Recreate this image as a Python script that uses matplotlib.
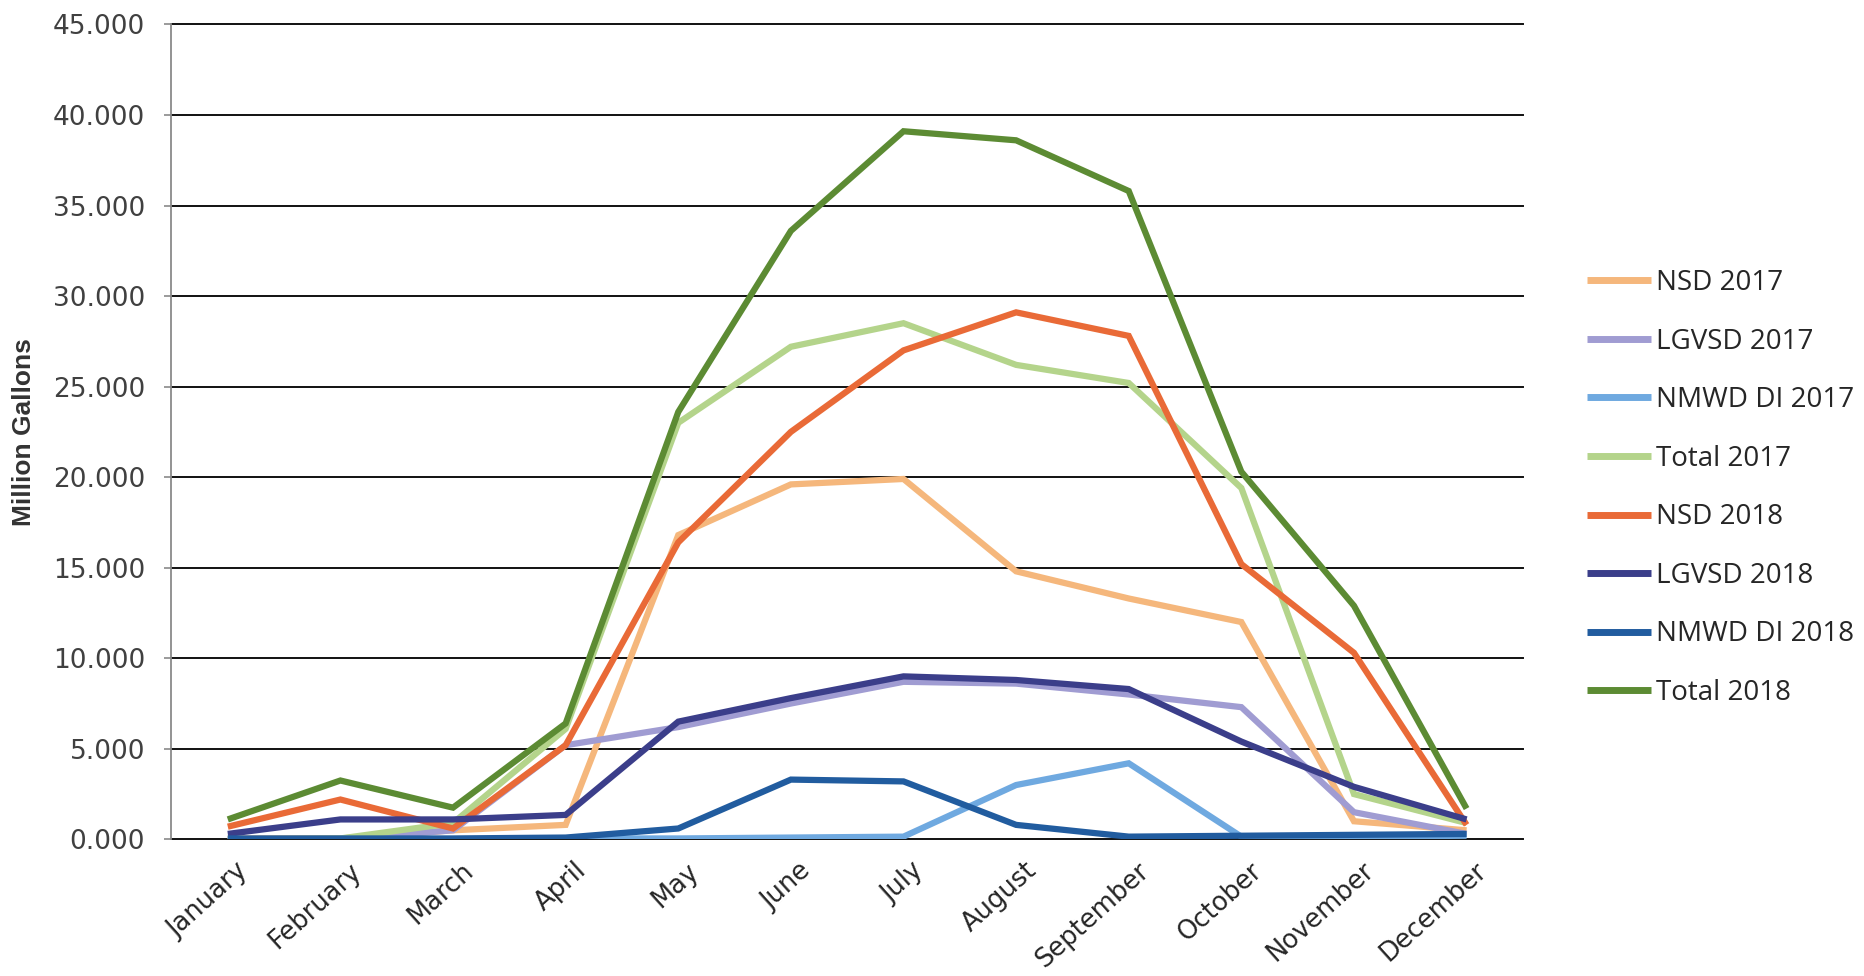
import matplotlib
matplotlib.use('Agg')
import matplotlib.pyplot as plt
import matplotlib.transforms as mtransforms
from matplotlib import font_manager
from matplotlib.ticker import FormatStrFormatter

# Months on the x axis
months = ['January', 'February', 'March', 'April', 'May', 'June', 'July',
          'August', 'September', 'October', 'November', 'December']

# Million gallons per month
nsd_2017 = [0.05, 0.05, 0.5, 0.8, 16.8, 19.6, 19.9, 14.8, 13.3, 12.0, 1.0, 0.5]
lgvsd_2017 = [0.0, 0.0, 0.5, 5.2, 6.2, 7.5, 8.7, 8.6, 8.0, 7.3, 1.5, 0.3]
nmwd_2017 = [0.0, 0.0, 0.0, 0.05, 0.05, 0.1, 0.15, 3.0, 4.2, 0.15, 0.15, 0.2]
total_2017 = [0.0, 0.05, 0.9, 6.1, 23.0, 27.2, 28.5, 26.2, 25.2, 19.4, 2.5, 0.9]
nsd_2018 = [0.7, 2.2, 0.6, 5.2, 16.4, 22.5, 27.0, 29.1, 27.8, 15.2, 10.3, 0.8]
lgvsd_2018 = [0.3, 1.1, 1.1, 1.35, 6.5, 7.8, 9.0, 8.8, 8.3, 5.4, 2.9, 1.1]
nmwd_2018 = [0.05, 0.05, 0.05, 0.1, 0.6, 3.3, 3.2, 0.8, 0.15, 0.2, 0.25, 0.3]
total_2018 = [1.1, 3.25, 1.75, 6.4, 23.6, 33.6, 39.1, 38.6, 35.8, 20.3, 12.9, 1.7]

series_names = ['NSD 2017', 'LGVSD 2017', 'NMWD DI 2017', 'Total 2017',
                'NSD 2018', 'LGVSD 2018', 'NMWD DI 2018', 'Total 2018']
series_values = [nsd_2017, lgvsd_2017, nmwd_2017, total_2017,
                 nsd_2018, lgvsd_2018, nmwd_2018, total_2018]
series_colors = ['#F5B77C', '#A09CD2', '#6FA9E0', '#B4D48B',
                 '#E96A37', '#3B3E8A', '#215C9F', '#5C8B33']

y_ticks = [0, 5, 10, 15, 20, 25, 30, 35, 40, 45]

# narrow bold font for the axis title if it is there
try:
    font_manager.findfont('Liberation Sans Narrow', fallback_to_default=False)
    ylab_family, ylab_size = 'Liberation Sans Narrow', 22
except ValueError:
    ylab_family, ylab_size = 'Liberation Sans', 19

fig = plt.figure(figsize=(18.64, 9.76), dpi=100)
ax = fig.add_axes([0.092, 0.140, 0.725, 0.835])

x = list(range(len(months)))
for name, vals, col in zip(series_names, series_values, series_colors):
    ax.plot(x, vals, color=col, linewidth=4.5, label=name,
            solid_joinstyle='miter', solid_capstyle='butt', zorder=3)

ax.set_xlim(-0.5, 11.5)
ax.set_ylim(0, 45)
ax.set_yticks(y_ticks)
ax.yaxis.set_major_formatter(FormatStrFormatter('%.3f'))
ax.set_xticks(x)
ax.set_xticklabels([])

# slanted month names, nudged right of the tick like the original
shift = mtransforms.ScaledTranslation(0.17, -0.28, fig.dpi_scale_trans)
for i, m in zip(x, months):
    ax.text(i, 0, m, transform=ax.get_xaxis_transform() + shift,
            rotation=42, ha='right', va='center', rotation_mode='anchor',
            fontsize=18.5, color='#262626', family='DejaVu Sans')

# black horizontal gridlines like the Excel original
ax.grid(axis='y', color='#111111', linewidth=1.4, zorder=1)
for gl in ax.get_ygridlines():
    gl.set_clip_on(False)
ax.set_axisbelow(True)
for side in ['top', 'right', 'bottom']:
    ax.spines[side].set_visible(False)
ax.spines['left'].set_color('#8a8a8a')
ax.spines['left'].set_linewidth(1.3)

ax.tick_params(axis='y', length=5, width=1.2, color='#8a8a8a', pad=14,
               labelsize=19, labelcolor='#404040')
ax.tick_params(axis='x', length=0)

ax.set_ylabel('Million Gallons', fontsize=ylab_size, fontweight='bold',
              color='#333333', family=ylab_family, labelpad=12)

leg = fig.legend(loc='center left', bbox_to_anchor=(0.838, 0.5), frameon=False,
                 prop={'family': 'Open Sans', 'size': 20}, labelspacing=1.1,
                 handlelength=2.3, handletextpad=0.2)
for line in leg.get_lines():
    line.set_linewidth(5)
for t in leg.get_texts():
    t.set_color('#262626')

fig.savefig('out.png', dpi=100)
